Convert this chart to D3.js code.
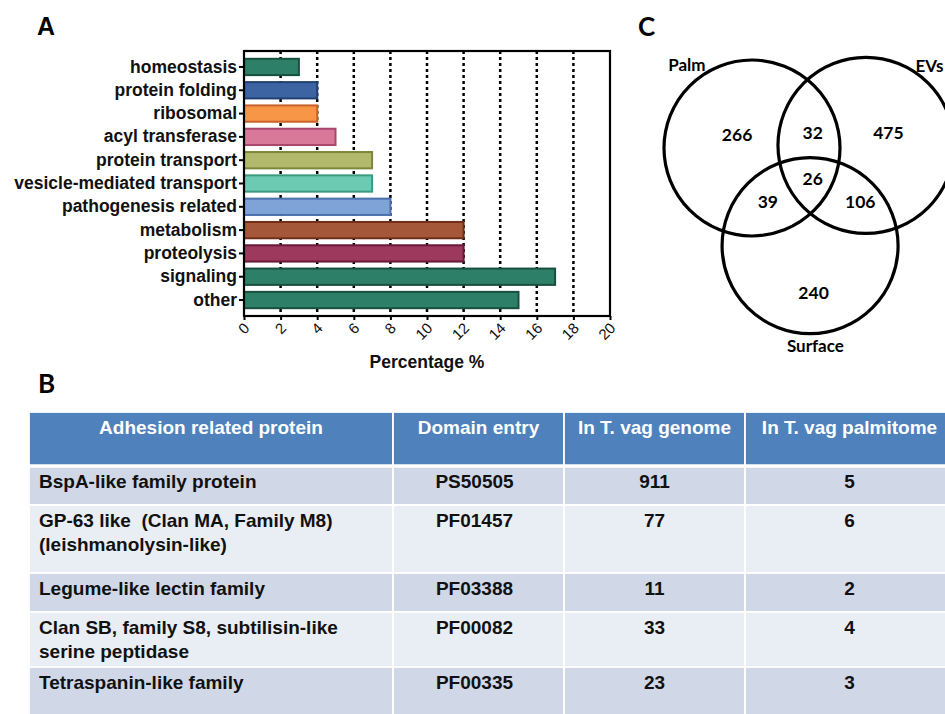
<!DOCTYPE html>
<html><head><meta charset="utf-8">
<script src="https://cdn.jsdelivr.net/npm/d3@7"></script>
<style>body{margin:0;background:#fff}svg{display:block}</style>
</head><body><svg id="c" width="945" height="714"></svg>
<script>
// ---------- DATA ----------
const categories = ["homeostasis","protein folding","ribosomal","acyl transferase","protein transport","vesicle-mediated transport","pathogenesis related","metabolism","proteolysis","signaling","other"];
const percentages = [3,4,4,5,7,7,8,12,12,17,15];
const xTicks = [0,2,4,6,8,10,12,14,16,18,20];
const xTitle = "Percentage %";

const vennSets = ["Palm","EVs","Surface"];
const vennRegions = ["Palm","EVs","Surface","Palm&EVs","Palm&Surface","EVs&Surface","Palm&EVs&Surface"];
const vennCounts = [266,475,240,32,39,106,26];

const tableHeaders = ["Adhesion related protein","Domain entry","In T. vag genome","In T. vag palmitome"];
const proteins = [["BspA-like family protein"],["GP-63 like  (Clan MA, Family M8)","(leishmanolysin-like)"],["Legume-like lectin family"],["Clan SB, family S8, subtilisin-like","serine peptidase"],["Tetraspanin-like family"]];
const domains = ["PS50505","PF01457","PF03388","PF00082","PF00335"];
const genomeCounts = [911,77,11,33,23];
const palmitomeCounts = [5,6,2,4,3];

// ---------- STYLE ----------
const fills = ["#2e7f67","#3c63a2","#f79646","#d9799a","#b2b86c","#6dcab2","#80a3d7","#a5573a","#9c395d","#2e7f67","#2e7f67"];
const strokes = ["#17503f","#213f70","#c8622a","#a8466b","#7c8738","#3c9a80","#4b70ae","#6e2e18","#6a1a38","#17503f","#17503f"];
const svg = d3.select("#c");
const ARIAL = "'Liberation Sans', Arial, sans-serif";
const CAL = "Lato, 'Open Sans', sans-serif";

// ---------- PANEL A ----------
const plot = {l:244, r:610, t:51, b:316};
const x = d3.scaleLinear().domain([0,20]).range([plot.l, plot.r]);
const y = d3.scaleBand().domain(categories).range([plot.t, plot.b]).paddingInner(0.3).paddingOuter(0.335);

svg.append("text").attr("x",37).attr("y",35).attr("font-family",ARIAL).attr("font-weight","bold").attr("font-size",25).text("A");

const gA = svg.append("g");
gA.selectAll("line.grid").data(xTicks.filter(d=>d>0&&d<20)).join("line")
  .attr("x1",d=>x(d)).attr("x2",d=>x(d)).attr("y1",plot.t).attr("y2",plot.b)
  .attr("stroke","#000").attr("stroke-width",2.5).attr("stroke-dasharray","3,3");
gA.selectAll("rect.bar").data(percentages).join("rect")
  .attr("x",x(0)).attr("y",(d,i)=>y(categories[i]))
  .attr("width",d=>x(d)-x(0)).attr("height",y.bandwidth())
  .attr("fill",(d,i)=>fills[i]).attr("stroke",(d,i)=>strokes[i]).attr("stroke-width",2);
gA.append("rect").attr("x",plot.l).attr("y",plot.t).attr("width",plot.r-plot.l).attr("height",plot.b-plot.t)
  .attr("fill","none").attr("stroke","#000").attr("stroke-width",2.2);
const yAx = gA.append("g").attr("transform",`translate(${plot.l},0)`).call(d3.axisLeft(y).tickSize(5).tickPadding(2));
yAx.select(".domain").remove();
yAx.selectAll("line").attr("stroke","#000").attr("stroke-width",2);
yAx.selectAll("text").attr("font-family",ARIAL).attr("font-weight","bold").attr("font-size",17.5).attr("fill","#111");
const xAx = gA.append("g").attr("transform",`translate(0,${plot.b})`).call(d3.axisBottom(x).tickValues(xTicks).tickSize(4).tickFormat(d3.format("d")));
xAx.select(".domain").remove();
xAx.selectAll("line").attr("stroke","#000").attr("stroke-width",2);
xAx.selectAll("text").attr("font-family",ARIAL).attr("font-size",15).attr("fill","#111")
  .attr("text-anchor","end").attr("dy",0).attr("y",0)
  .attr("transform","translate(6,13) rotate(-45)");
gA.append("text").attr("x",(plot.l+plot.r)/2).attr("y",368).attr("text-anchor","middle")
  .attr("font-family",ARIAL).attr("font-weight","bold").attr("font-size",17.5).attr("fill","#111").text(xTitle);

// ---------- PANEL C (Venn) ----------
svg.append("text").attr("x",638).attr("y",36).attr("font-family",CAL).attr("font-weight","bold").attr("font-size",26).text("C");
const vs = d3.scaleLinear().domain([0,1]).range([0,88]);
const vOrigin = {x:752, y:148};
const circ = [{cx:0,cy:0},{cx:1.295,cy:-0.03},{cx:0.66,cy:1.11}];
const gC = svg.append("g").attr("transform",`translate(${vOrigin.x},${vOrigin.y})`);
gC.selectAll("circle").data(vennSets).join("circle")
  .attr("cx",(d,i)=>vs(circ[i].cx)).attr("cy",(d,i)=>vs(circ[i].cy)).attr("r",vs(1))
  .attr("fill","none").attr("stroke","#000").attr("stroke-width",3.2);
const setLabelPos = [{x:-0.74,y:-0.88,a:"middle"},{x:2.175,y:-0.86,a:"end"},{x:0.72,y:2.32,a:"middle"}];
gC.selectAll("text.set").data(vennSets).join("text")
  .attr("x",(d,i)=>vs(setLabelPos[i].x)).attr("y",(d,i)=>vs(setLabelPos[i].y)).attr("text-anchor",(d,i)=>setLabelPos[i].a)
  .attr("font-family",CAL).attr("font-weight","bold").attr("font-size",17).text(d=>d);
const regPos = [{x:-0.17,y:-0.08},{x:1.55,y:-0.1},{x:0.7,y:1.72},{x:0.69,y:-0.1},{x:0.18,y:0.68},{x:1.23,y:0.68},{x:0.69,y:0.42}];
gC.selectAll("text.reg").data(vennCounts).join("text")
  .attr("x",(d,i)=>vs(regPos[i].x)).attr("y",(d,i)=>vs(regPos[i].y)).attr("text-anchor","middle")
  .attr("font-family",CAL).attr("font-weight","bold").attr("font-size",17.5).text(d=>d);

// ---------- PANEL B (table) ----------
svg.append("text").attr("x",38).attr("y",393).attr("font-family",CAL).attr("font-weight","bold").attr("font-size",26).text("B");
const colEdges = [29,393,564,745,954];
const rowEdges = [412,466,505,573,612,667,730];
const gB = svg.append("g");
const cells = [];
for (let r=0;r<6;r++) for (let c=0;c<4;c++) cells.push({r,c});
gB.selectAll("rect").data(cells).join("rect")
  .attr("x",d=>colEdges[d.c]).attr("y",d=>rowEdges[d.r])
  .attr("width",d=>colEdges[d.c+1]-colEdges[d.c]).attr("height",d=>rowEdges[d.r+1]-rowEdges[d.r])
  .attr("fill",d=>d.r===0?"#4f81bd":(d.r%2===1?"#d0d8e8":"#e9edf4"))
  .attr("stroke","#fff").attr("stroke-width",1.8);
gB.append("line").attr("x1",colEdges[0]).attr("x2",colEdges[4]).attr("y1",rowEdges[1]).attr("y2",rowEdges[1]).attr("stroke","#fff").attr("stroke-width",3.5);
gB.selectAll("text.h").data(tableHeaders).join("text")
  .attr("x",(d,i)=>(colEdges[i]+colEdges[i+1])/2).attr("y",434).attr("text-anchor","middle")
  .attr("font-family",ARIAL).attr("font-weight","bold").attr("font-size",19).attr("fill","#fff").text(d=>d);
const body = gB.append("g").attr("font-family",ARIAL).attr("font-weight","bold").attr("font-size",19).attr("fill","#111");
proteins.forEach((lines,i)=>{
  const top = rowEdges[i+1];
  const t = body.append("text").attr("x",39).attr("y",top+22);
  lines.forEach((ln,j)=>t.append("tspan").attr("x",39).attr("dy",j?24:0).attr("xml:space","preserve").text(ln));
  body.append("text").attr("x",(colEdges[1]+colEdges[2])/2-4).attr("y",top+22).attr("text-anchor","middle").text(domains[i]);
  body.append("text").attr("x",(colEdges[2]+colEdges[3])/2).attr("y",top+22).attr("text-anchor","middle").text(genomeCounts[i]);
  body.append("text").attr("x",(colEdges[3]+colEdges[4])/2).attr("y",top+22).attr("text-anchor","middle").text(palmitomeCounts[i]);
});
</script></body></html>
